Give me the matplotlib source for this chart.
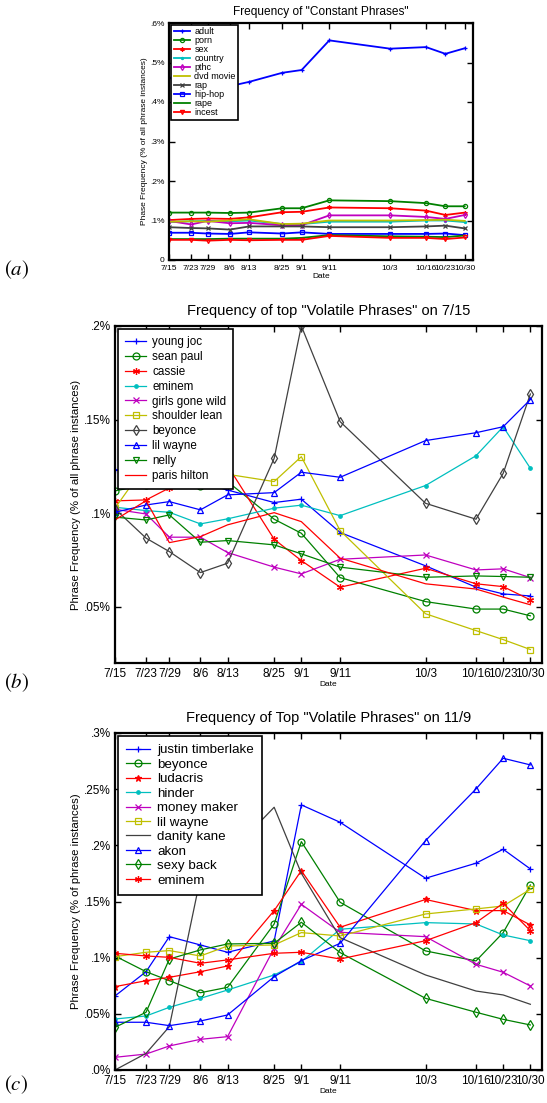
import numpy as np
import pandas as pd
import matplotlib
matplotlib.use("Agg")
import matplotlib.pyplot as plt

plt.rcParams['font.family'] = ['Liberation Sans', 'DejaVu Sans']
plt.rcParams['mathtext.fontset'] = 'stix'

# sample dates (2006) and their tick labels
dates = ['2006-07-15', '2006-07-23', '2006-07-29', '2006-08-06', '2006-08-13', '2006-08-25',
         '2006-09-01', '2006-09-11', '2006-10-03', '2006-10-16', '2006-10-23', '2006-10-30']
date_labels = ['7/15', '7/23', '7/29', '8/6', '8/13', '8/25', '9/1', '9/11', '10/3', '10/16', '10/23', '10/30']
days = (pd.to_datetime(dates) - pd.Timestamp(dates[0])).days.values

# (a) constant phrases, values in %
a_names = ['adult', 'porn', 'sex', 'country', 'pthc', 'dvd movie', 'rap', 'hip-hop', 'rape', 'incest']
adult = [0.462, 0.452, 0.443, 0.440, 0.451, 0.474, 0.481, 0.556, 0.535, 0.539, 0.522, 0.536]
porn = [0.120, 0.120, 0.120, 0.119, 0.120, 0.131, 0.131, 0.151, 0.149, 0.144, 0.136, 0.136]
sex = [0.101, 0.104, 0.105, 0.104, 0.108, 0.121, 0.122, 0.133, 0.131, 0.125, 0.114, 0.120]
country = [0.096, 0.098, 0.099, 0.098, 0.100, 0.091, 0.091, 0.097, 0.097, 0.100, 0.100, 0.096]
pthc = [0.099, 0.090, 0.099, 0.093, 0.094, 0.088, 0.088, 0.113, 0.113, 0.109, 0.104, 0.114]
dvd_movie = [0.097, 0.098, 0.097, 0.100, 0.103, 0.091, 0.092, 0.100, 0.100, 0.101, 0.102, 0.099]
rap = [0.083, 0.081, 0.080, 0.077, 0.085, 0.085, 0.085, 0.083, 0.083, 0.085, 0.087, 0.080]
hip_hop = [0.069, 0.069, 0.067, 0.066, 0.070, 0.067, 0.070, 0.066, 0.066, 0.066, 0.067, 0.063]
rape = [0.053, 0.053, 0.053, 0.054, 0.054, 0.054, 0.056, 0.063, 0.060, 0.059, 0.058, 0.062]
incest = [0.051, 0.051, 0.049, 0.051, 0.050, 0.051, 0.051, 0.061, 0.056, 0.056, 0.053, 0.057]
a_values = [adult, porn, sex, country, pthc, dvd_movie, rap, hip_hop, rape, incest]

# (b) top volatile phrases on 7/15
b_names = ['young joc', 'sean paul', 'cassie', 'eminem', 'girls gone wild', 'shoulder lean',
           'beyonce', 'lil wayne', 'nelly', 'paris hilton']
young_joc = [0.1231, 0.1252, 0.128, 0.1163, 0.1124, 0.1057, 0.1075, 0.0897, 0.0719, 0.0605, 0.0569, 0.0558]
sean_paul = [0.1119, 0.1153, 0.1195, 0.1146, 0.1169, 0.0968, 0.0893, 0.0656, 0.0528, 0.0488, 0.0488, 0.0452]
cassie = [0.1066, 0.1071, 0.1135, 0.1163, 0.1254, 0.0861, 0.0747, 0.0605, 0.0706, 0.0623, 0.0608, 0.0537]
eminem_b = [0.1032, 0.1014, 0.1005, 0.0943, 0.0970, 0.1027, 0.1043, 0.0987, 0.1148, 0.1307, 0.1462, 0.1240]
girls_gone_wild = [0.1021, 0.0996, 0.0872, 0.0872, 0.0790, 0.0712, 0.0676, 0.0754, 0.0777, 0.0697, 0.0703, 0.0656]
shoulder_lean = [0.1027, 0.126, 0.127, 0.1217, 0.1208, 0.1169, 0.1302, 0.0907, 0.0463, 0.0373, 0.0325, 0.0272]
beyonce_b = [0.1023, 0.0867, 0.0795, 0.0683, 0.0733, 0.1293, 0.2000, 0.1489, 0.1053, 0.0968, 0.1213, 0.1637]
lil_wayne_b = [0.1005, 0.1044, 0.1062, 0.1018, 0.1098, 0.1110, 0.1219, 0.1192, 0.1388, 0.1430, 0.1462, 0.1607]
nelly = [0.0979, 0.0964, 0.0991, 0.0845, 0.0854, 0.0831, 0.0783, 0.0712, 0.0658, 0.0665, 0.0662, 0.0658]
paris_hilton = [0.0964, 0.1067, 0.0843, 0.0875, 0.0938, 0.1003, 0.0955, 0.0760, 0.0623, 0.0595, 0.0552, 0.0511]
b_values = [young_joc, sean_paul, cassie, eminem_b, girls_gone_wild, shoulder_lean,
            beyonce_b, lil_wayne_b, nelly, paris_hilton]

# (c) top volatile phrases on 11/9
c_names = ['justin timberlake', 'beyonce', 'ludacris', 'hinder', 'money maker', 'lil wayne',
           'danity kane', 'akon', 'sexy back', 'eminem']
justin_timberlake = [0.0659, 0.0875, 0.1187, 0.1113, 0.1048, 0.1149, 0.2360, 0.2205, 0.1707, 0.1841, 0.1965, 0.1790]
beyonce_c = [0.1015, 0.0875, 0.0795, 0.0688, 0.0736, 0.1300, 0.2033, 0.1493, 0.1060, 0.0971, 0.1223, 0.1647]
ludacris = [0.0742, 0.0795, 0.0825, 0.0875, 0.0926, 0.1419, 0.1775, 0.1271, 0.1518, 0.1419, 0.1419, 0.1291]
hinder = [0.0454, 0.0481, 0.0558, 0.0638, 0.0712, 0.0846, 0.0964, 0.1253, 0.1312, 0.1300, 0.1202, 0.1151]
money_maker = [0.0113, 0.0142, 0.0214, 0.0273, 0.0297, 0.1084, 0.1475, 0.1226, 0.1187, 0.0941, 0.0870, 0.0748]
lil_wayne_c = [0.1009, 0.1048, 0.1063, 0.1015, 0.1104, 0.1113, 0.1223, 0.1193, 0.1389, 0.1434, 0.1460, 0.1609]
danity_kane = [0.0, 0.0148, 0.0386, 0.171, 0.191, 0.2339, 0.1751, 0.1178, 0.0846, 0.0703, 0.0668, 0.0585]
akon = [0.0425, 0.0425, 0.0395, 0.0436, 0.0490, 0.0831, 0.0973, 0.1128, 0.2042, 0.2502, 0.2775, 0.2716]
sexy_back = [0.0380, 0.0514, 0.0988, 0.1069, 0.1122, 0.1128, 0.1315, 0.1045, 0.0638, 0.0514, 0.0451, 0.0401]
eminem_c = [0.1039, 0.1015, 0.1003, 0.0950, 0.0980, 0.1039, 0.1048, 0.0988, 0.1151, 0.1312, 0.1484, 0.1240]
c_values = [justin_timberlake, beyonce_c, ludacris, hinder, money_maker, lil_wayne_c,
            danity_kane, akon, sexy_back, eminem_c]

a_yticks = [0, 0.1, 0.2, 0.3, 0.4, 0.5, 0.6]
a_ylabels = ['0', '.1%', '.2%', '.3%', '.4%', '.5%', '.6%']
b_yticks = [0.05, 0.1, 0.15, 0.2]
b_ylabels = ['.05%', '.1%', '.15%', '.2%']
c_yticks = [0, 0.05, 0.1, 0.15, 0.2, 0.25, 0.3]
c_ylabels = ['.0%', '.05%', '.1%', '.15%', '.2%', '.25%', '.3%']

# matlab colour order
mb = (0, 0, 1)
mg = (0, 0.5, 0)
mr = (1, 0, 0)
mc = (0, 0.75, 0.75)
mm = (0.75, 0, 0.75)
my = (0.75, 0.75, 0)
mk = (0.25, 0.25, 0.25)
colors = [mb, mg, mr, mc, mm, my, mk, mb, mg, mr]
asterisk = (6, 2, 0)
a_markers = ['+', 'o', asterisk, '.', 'd', None, 'x', 's', None, 'v']
b_markers = ['+', 'o', asterisk, '.', 'x', 's', 'd', '^', 'v', None]
c_markers = ['+', 'o', '*', '.', 'x', 's', None, '^', 'd', asterisk]


def draw_panel(rect, names, values, markers, yticks, ylabels, ylim, title, ylabel,
               lw, ms, tick_fs, title_fs, title_pad, label_fs, leg_fs, leg_spacing, leg_pad):
    ax = fig.add_axes(rect)
    for name, vals, col, mk in zip(names, values, colors, markers):
        ax.plot(days, vals, color=col, lw=lw, marker=mk, ms=ms,
                mfc='none' if mk in ['o', 's', 'd', '^', 'v'] else col,
                mew=0.9, label=name)
    ax.set_xlim(0, 110)
    ax.set_ylim(*ylim)
    ax.set_xticks(days)
    ax.set_xticklabels(date_labels, fontsize=tick_fs)
    ax.set_yticks(yticks)
    ax.set_yticklabels(ylabels, fontsize=tick_fs)
    ax.tick_params(direction='in', top=True, right=True, length=4, width=1)
    ax.tick_params(axis='x', pad=3.5)
    ax.tick_params(axis='y', pad=3)
    for s in ax.spines.values():
        s.set_linewidth(1.6)
    ax.set_title(title, fontsize=title_fs, pad=title_pad)
    ax.set_ylabel(ylabel, fontsize=label_fs, labelpad=2)
    ax.set_xlabel('Date', fontsize=6, labelpad=1)
    leg = ax.legend(loc='upper left', bbox_to_anchor=(0.005, 0.995), fontsize=leg_fs,
                    labelspacing=leg_spacing, handlelength=1.8, handletextpad=0.5,
                    borderpad=leg_pad, borderaxespad=0.1, fancybox=False, framealpha=1)
    leg.get_frame().set_edgecolor('black')
    leg.get_frame().set_linewidth(1.2)
    return ax


fig = plt.figure(figsize=(5.47, 11.03), dpi=100)

draw_panel([169 / 547, 1 - 260 / 1103, 304 / 547, 237 / 1103], a_names, a_values, a_markers,
           a_yticks, a_ylabels, (0, 0.6), 'Frequency of "Constant Phrases"',
           'Phase Frequency (% of all phrase instances)',
           1.3, 3, 6, 8.6, 6, 6, 6.5, 0.0, 0.25)
draw_panel([115 / 547, 1 - 663 / 1103, 427 / 547, 337 / 1103], b_names, b_values, b_markers,
           b_yticks, b_ylabels, (0.02, 0.2), 'Frequency of top "Volatile Phrases" on 7/15',
           'Phrase Frequency (% of all phrase instances)',
           0.9, 5, 8.5, 10.5, 8, 8.2, 8.4, 0.25, 0.6)
draw_panel([115 / 547, 1 - 1070 / 1103, 427 / 547, 337 / 1103], c_names, c_values, c_markers,
           c_yticks, c_ylabels, (0, 0.3), 'Frequency of Top "Volatile Phrases" on 11/9',
           'Phrase Frequency (% of phrase instances)',
           0.9, 5, 8.5, 10.5, 8, 8.2, 9.6, 0.16, 0.6)

for lab, y in [('a', 270), ('b', 683), ('c', 1085)]:
    fig.text(0.008, 1 - y / 1103, r'$(%s)$' % lab, fontsize=15, va='center', ha='left')

fig.savefig('out.png', dpi=100)
